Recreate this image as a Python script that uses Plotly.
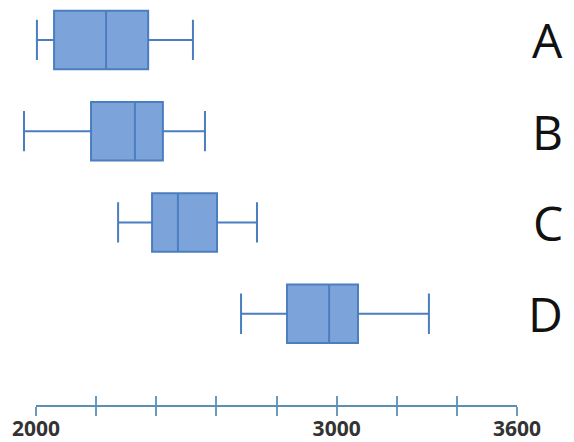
import plotly.graph_objects as go

categories = ["A", "B", "C", "D"]
positions = [3, 2, 1, 0]
lower = [2003, 1960, 2273, 2682]
q1 = [2060, 2183, 2386, 2835]
median = [2233, 2329, 2472, 2975]
q3 = [2373, 2422, 2602, 3071]
upper = [2522, 2562, 2735, 3307]

tick_vals = [2000, 2200, 2400, 2600, 2800, 3000, 3200, 3400, 3600]
tick_text = ["2000", "", "", "", "", "3000", "", "", "3600"]

data_min = 1940
axis_min, axis_max = 2000, 3600
axis_start = (axis_min - data_min) / (axis_max - data_min)

fig = go.Figure()
for i, c in enumerate(categories):
    fig.add_trace(go.Box(
        name=c,
        y=[positions[i]],
        lowerfence=[lower[i]], q1=[q1[i]], median=[median[i]],
        q3=[q3[i]], upperfence=[upper[i]],
        orientation="h",
        width=0.64,
        whiskerwidth=0.69,
        fillcolor="#7DA4DA",
        line=dict(color="#4A7EBF", width=2),
        boxpoints=False,
        hoverinfo="skip",
        showlegend=False,
    ))
    fig.add_annotation(
        x=1.096, y=positions[i], xref="paper", yref="y",
        text=c, showarrow=False, xanchor="right", yanchor="middle",
        font=dict(family="Open Sans", size=48, color="#111111"),
    )

# empty traces so the display axes render
fig.add_trace(go.Scatter(x=[None], y=[None], xaxis="x2", yaxis="y", showlegend=False, hoverinfo="skip"))
fig.add_trace(go.Scatter(x=[None], y=[None], xaxis="x3", yaxis="y", showlegend=False, hoverinfo="skip"))

fig.update_layout(
    width=566, height=434,
    margin=dict(l=10, r=57, t=0, b=37),
    paper_bgcolor="white", plot_bgcolor="rgba(0,0,0,0)",
    xaxis=dict(range=[data_min, axis_max], visible=False, showgrid=False, zeroline=False),
    xaxis2=dict(
        domain=[axis_start, 1], anchor="y",
        range=[axis_min, axis_max], tickvals=tick_vals, ticktext=tick_text,
        showgrid=False, zeroline=False, automargin=False,
        showline=True, linecolor="#5B8FB4", linewidth=2,
        ticks="outside", ticklen=9, tickwidth=1.5, tickcolor="#6A9AC0",
        ticklabelstandoff=-5,
        tickfont=dict(family="Open Sans", size=21, color="#333333", weight="bold"),
    ),
    xaxis3=dict(
        domain=[axis_start, 1], anchor="y", overlaying="x2", side="bottom",
        range=[axis_min, axis_max], tickvals=tick_vals,
        showticklabels=False, showgrid=False, zeroline=False, automargin=False,
        showline=False, ticks="inside", ticklen=9, tickwidth=1.5, tickcolor="#6A9AC0",
    ),
    yaxis=dict(range=[-1, 3.35], visible=False, showgrid=False, zeroline=False),
)

fig.write_html("out.html")
